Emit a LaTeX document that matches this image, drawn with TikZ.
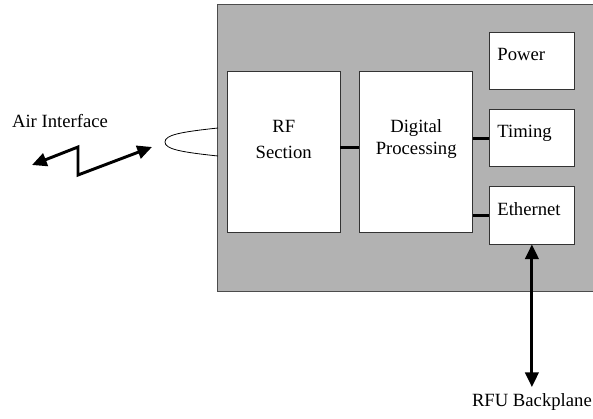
\documentclass[tikz,border=0pt]{standalone}
\usepackage{fontspec}
\setmainfont{Liberation Serif}
\usetikzlibrary{arrows.meta, positioning}

\begin{document}
\begin{tikzpicture}[
    x=0.75pt, y=-0.75pt,
    font=\fontsize{14}{16.5}\selectfont,
    chassis/.style={rectangle, draw=black!70, fill=black!30, line width=0.6pt, anchor=north west, minimum width=300pt, minimum height=215.25pt},
    block/.style={rectangle, draw=black!80, fill=white, line width=0.6pt, align=center, minimum width=84.5pt, minimum height=120.75pt},
    sidebox/.style={rectangle, draw=black!80, fill=white, line width=0.6pt, align=left, inner xsep=6pt, text width=51.75pt, minimum height=43pt, text depth=10pt},
    link/.style={line width=2.2pt},
    arr/.style={{Triangle[length=11pt,width=10pt]}-{Triangle[length=11pt,width=10pt]}, line width=2.2pt},
    txt/.style={inner sep=0pt}
]
\useasboundingbox (0,0) rectangle (593,418);
\begin{scope}
\clip (0,0) rectangle (593,418);
\node[chassis] (unit) at (217,4) {};
\end{scope}

\node[block, anchor=north west, text depth=19pt] (rf) at (227,71) {RF\\[3pt]Section};
\node[block, right=14.25pt of rf, text depth=23pt] (dp) {Digital\\Processing};
\node[sidebox, anchor=north west] (power) at (489,32) {Power};
\node[sidebox, below=14.25pt of power] (timing) {Timing};
\node[sidebox, below=14.25pt of timing] (ether) {Ethernet};
\draw[link] ([yshift=3pt]rf.east) -- ([yshift=3pt]dp.west);
\draw[link] (timing.west -| dp.east) -- (timing.west);
\draw[link] (ether.west -| dp.east) -- (ether.west);

% air side
\node[txt] (air) at (60,121) {Air Interface};
\coordinate (airL) at (32,165);
\coordinate (airA) at (78,147);
\coordinate (airB) at (78,175);
\coordinate (airR) at (152,147);
\draw[arr, line join=miter] (airL) -- (airA) -- (airB) -- (airR);
\coordinate (lpT) at (218,128);
\coordinate (lpM) at (165,142);
\coordinate (lpB) at (218,156);
\draw[line width=0.6pt] (lpT) .. controls (180,132) and (165,135) .. (lpM) .. controls (165,149) and (180,152) .. (lpB);

% backplane
\node[txt, below=112pt of ether] (rfu) {RFU Backplane};
\draw[arr, shorten >=5pt] (ether.south) -- (rfu.north);
\end{tikzpicture}
\end{document}
